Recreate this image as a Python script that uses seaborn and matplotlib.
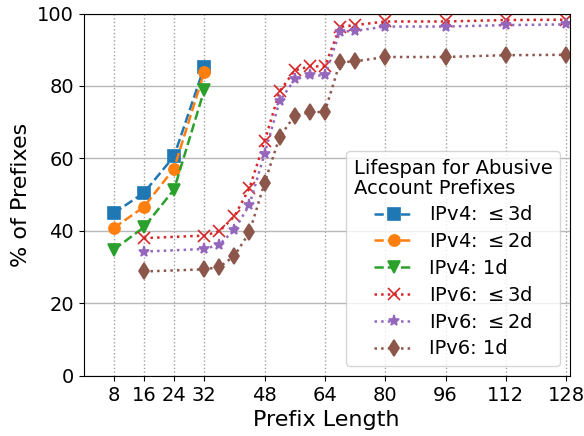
import numpy as np
import pandas as pd
import seaborn as sns
import matplotlib
matplotlib.use('Agg')
import matplotlib.pyplot as plt

# prefix lengths
v4_x = [8, 16, 24, 32]
v6_x = [16, 32, 36, 40, 44, 48, 52, 56, 60, 64, 68, 72, 80, 96, 112, 128]

# % of prefixes per lifespan bucket
v4_3d = [44.9, 50.5, 60.6, 85.2]
v4_2d = [40.8, 46.6, 57.2, 83.8]
v4_1d = [34.8, 41.0, 51.4, 78.8]
v6_3d = [38.0, 38.7, 39.9, 44.0, 51.8, 64.7, 78.5, 84.3, 85.4, 85.4, 96.3, 96.8, 97.8, 97.8, 98.2, 98.3]
v6_2d = [34.3, 35.0, 36.2, 40.3, 47.2, 61.3, 75.8, 81.8, 82.9, 82.9, 95.0, 95.2, 96.4, 96.4, 96.8, 97.0]
v6_1d = [28.8, 29.4, 30.0, 33.1, 39.6, 53.2, 65.9, 71.8, 72.7, 72.9, 86.5, 86.8, 88.0, 88.0, 88.5, 88.6]

labels = ['IPv4: $\\leq 3$d', 'IPv4: $\\leq 2$d', 'IPv4: 1d',
          'IPv6: $\\leq 3$d', 'IPv6: $\\leq 2$d', 'IPv6: 1d']
colors = ['#1f77b4', '#ff7f0e', '#2ca02c', '#d62728', '#9467bd', '#8c564b']
markers = ['s', 'o', 'v', 'x', '*', 'd']
styles = ['--', '--', '--', ':', ':', ':']

series = [(v4_x, v4_3d), (v4_x, v4_2d), (v4_x, v4_1d),
          (v6_x, v6_3d), (v6_x, v6_2d), (v6_x, v6_1d)]

fig, ax = plt.subplots(figsize=(5.84, 4.36), dpi=100)

for (xs, ys), lab, c, m, ls in zip(series, labels, colors, markers, styles):
    sns.lineplot(x=xs, y=ys, ax=ax, color=c, marker=m, linestyle=ls,
                 markersize=8, linewidth=1.8, label=lab,
                 markeredgecolor=c, markeredgewidth=1.2)

ax.set_xlim(0, 129)
ax.set_ylim(0, 100)
ax.set_xticks([8, 16, 24, 32, 48, 64, 80, 96, 112, 128])
ax.set_yticks([0, 20, 40, 60, 80, 100])
ax.tick_params(labelsize=14)
ax.set_xlabel('Prefix Length', fontsize=16)
ax.set_ylabel('% of Prefixes', fontsize=16)

ax.yaxis.grid(True, linestyle='-', color='#b8b8b8', linewidth=1)
ax.xaxis.grid(True, linestyle=':', color='#a0a0a0', linewidth=1)
ax.set_axisbelow(True)

leg = ax.legend(title='Lifespan for Abusive\nAccount Prefixes', fontsize=14,
                title_fontsize=14, loc='lower right', labelspacing=0.4)
leg.get_title().set_linespacing(1.05)

plt.subplots_adjust(left=0.143, right=0.976, bottom=0.138, top=0.969)
plt.savefig('out.png', dpi=100)
